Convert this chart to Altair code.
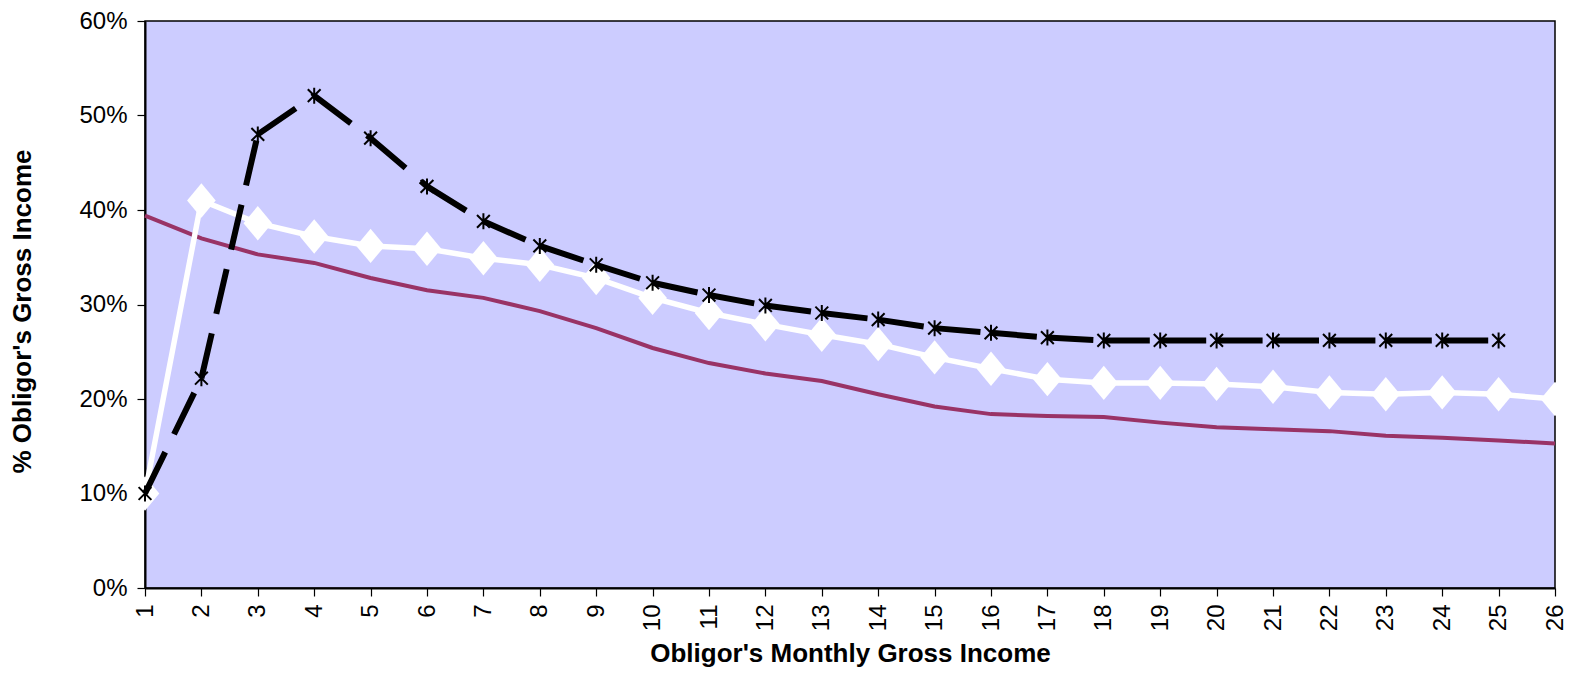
import altair as alt
import pandas as pd

income = list(range(1, 27))
maroon_pct = [39.4, 37.0, 35.3, 34.4, 32.8, 31.5, 30.7, 29.3, 27.5, 25.4, 23.8, 22.7, 21.9,
              20.5, 19.2, 18.4, 18.2, 18.1, 17.5, 17.0, 16.8, 16.6, 16.1, 15.9, 15.6, 15.3]
white_pct = [10.0, 41.0, 38.6, 37.2, 36.2, 35.9, 34.9, 34.2, 32.8, 30.7, 29.1, 27.9, 26.8,
             25.8, 24.4, 23.2, 22.1, 21.7, 21.7, 21.6, 21.3, 20.7, 20.5, 20.7, 20.5, 20.0]
black_pct = [10.0, 22.2, 48.0, 52.1, 47.6, 42.5, 38.8, 36.2, 34.2, 32.3, 31.0, 29.9, 29.1,
             28.4, 27.5, 27.0, 26.5, 26.2, 26.2, 26.2, 26.2, 26.2, 26.2, 26.2, 26.2]
y_ticks = [0, 0.1, 0.2, 0.3, 0.4, 0.5, 0.6]

df_m = pd.DataFrame({"x": income, "y": [v / 100 for v in maroon_pct]})
df_w = pd.DataFrame({"x": income, "y": [v / 100 for v in white_pct]})
df_b = pd.DataFrame({"x": income[:len(black_pct)], "y": [v / 100 for v in black_pct]})

seg_rows = []
for i in range(len(black_pct) - 1):
    seg_rows.append({"seg": i, "ord": 0, "x": income[i], "y": black_pct[i] / 100})
    seg_rows.append({"seg": i, "ord": 1, "x": income[i + 1], "y": black_pct[i + 1] / 100})
df_seg = pd.DataFrame(seg_rows)

xs = alt.X("x:Q", scale=alt.Scale(domain=[1, 26], nice=False, zero=False),
           axis=alt.Axis(values=income, format="d", labelAngle=-90, labelPadding=8,
                         title="Obligor's Monthly Gross Income", titleY=73,
                         titleBaseline="alphabetic"))
ys = alt.Y("y:Q", scale=alt.Scale(domain=[0, 0.6], nice=False),
           axis=alt.Axis(values=y_ticks, format=".0%", labelPadding=10,
                         title="% Obligor's Gross Income", titleX=-110, titleY=290))

maroon = alt.Chart(df_m).mark_line(color="#993366", strokeWidth=4).encode(x=xs, y=ys)
white_line = alt.Chart(df_w).mark_line(color="white", strokeWidth=5.5).encode(x=xs, y=ys)
white_pts = alt.Chart(df_w).mark_point(
    shape="M0,-1.2L1,0L0,1.2L-1,0Z", size=820, filled=True, fill="white",
    stroke="white", strokeWidth=0, opacity=1).encode(x=xs, y=ys)
black_line = alt.Chart(df_seg).mark_line(
    color="black", strokeWidth=6, strokeDash=[46, 20], strokeCap="butt").encode(
    x=xs, y=ys, detail="seg:N", order="ord:Q")
black_pts = alt.Chart(df_b).mark_point(
    shape="M0,-1L0,1M-0.8,-0.8L0.8,0.8M-0.8,0.8L0.8,-0.8", size=256, filled=False,
    stroke="black", strokeWidth=2, opacity=1).encode(x=xs, y=ys)

chart = alt.layer(maroon, white_line, white_pts, black_line, black_pts).properties(
    width=1410, height=567,
    autosize=alt.AutoSizeParams(type="none"),
    padding={"left": 137, "top": 13, "right": 14, "bottom": 79},
    background="white",
).configure_view(
    fill="#CCCCFF", stroke="black", strokeWidth=1.5
).configure_axis(
    grid=False, domainColor="black", domainWidth=2, tickColor="black", tickSize=8,
    tickWidth=1.2,
    labelFont="Liberation Sans", labelFontSize=24, labelColor="black",
    titleFont="Liberation Sans", titleFontSize=26, titleFontWeight="bold", titleColor="black",
)

chart.save("out.html", embed_options={"renderer": "svg", "actions": False})
